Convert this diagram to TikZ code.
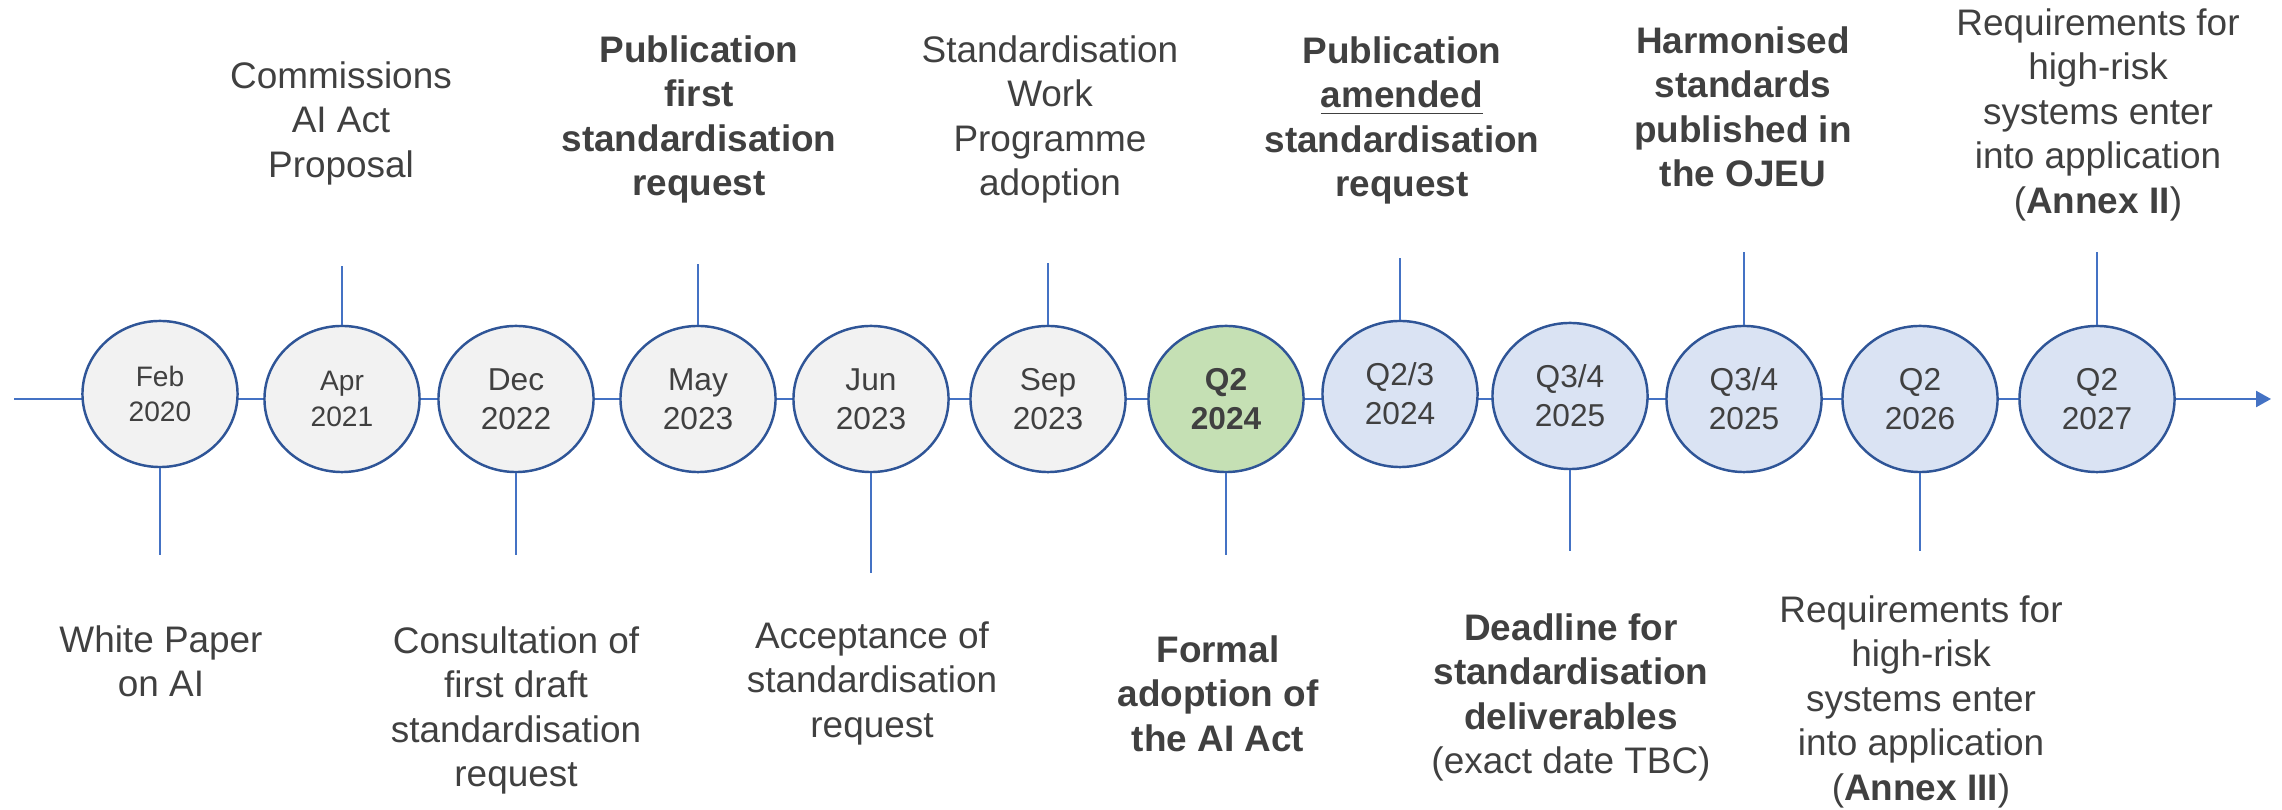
\documentclass[tikz,border=0pt]{standalone}
\usepackage{fontspec}
\setmainfont{Liberation Sans}
\usepackage{tikz}
\usetikzlibrary{shapes.geometric,arrows.meta}
\definecolor{linebl}{HTML}{4472C4}
\definecolor{rimbl}{HTML}{2F5597}
\definecolor{pastgray}{HTML}{F2F2F2}
\definecolor{nowgreen}{HTML}{C5E0B4}
\definecolor{nextblue}{HTML}{DAE3F3}
\definecolor{txtgray}{HTML}{404040}
\begin{document}
\begin{tikzpicture}[x=0.01cm,y=-0.01cm,
    date/.style={ellipse,draw=rimbl,line width=0.7pt,minimum width=1.55cm,minimum height=1.46cm,inner sep=0pt,text=txtgray,align=center,font=\fontsize{9pt}{11.1pt}\selectfont},
    olddate/.style={date,font=\fontsize{8pt}{10pt}\selectfont},
    event/.style={anchor=north,inner sep=0pt,text=txtgray,align=center,font=\fontsize{10.5pt}{12.65pt}\selectfont},
    keyevent/.style={event,font=\fontsize{10.5pt}{12.65pt}\selectfont\bfseries},
    tick/.style={draw=linebl,line width=0.35pt}]
      \useasboundingbox (0,0) rectangle (2282,810);
      % time axis
      \coordinate (tlstart) at (14,399);
      \coordinate (tlend) at (2271,399);
      \draw[linebl,line width=0.7pt,-{Triangle[length=0.15cm,width=0.16cm]}] (tlstart) -- (tlend);
      % milestones
      \node[olddate,fill=pastgray] (feb20) at (160,394) {Feb\\2020};
      \node[olddate,fill=pastgray] (apr21) at (342,399) {Apr\\2021};
      \node[date,fill=pastgray] (dec22) at (516,399) {Dec\\2022};
      \node[date,fill=pastgray] (may23) at (698,399) {May\\2023};
      \node[date,fill=pastgray] (jun23) at (871,399) {Jun\\2023};
      \node[date,fill=pastgray] (sep23) at (1048,399) {Sep\\2023};
      \node[date,fill=nowgreen,font=\fontsize{9pt}{11.1pt}\selectfont\bfseries] (q224) at (1226,399) {Q2\\2024};
      \node[date,fill=nextblue] (q2324) at (1400,394) {Q2/3\\2024};
      \node[date,fill=nextblue] (q34a) at (1570,396) {Q3/4\\2025};
      \node[date,fill=nextblue] (q34b) at (1744,399) {Q3/4\\2025};
      \node[date,fill=nextblue] (q226) at (1920,399) {Q2\\2026};
      \node[date,fill=nextblue] (q227) at (2097,399) {Q2\\2027};
      % tick ends
      \coordinate (feb20end) at (160,555);
      \coordinate (apr21end) at (342,266);
      \coordinate (dec22end) at (516,555);
      \coordinate (may23end) at (698,264);
      \coordinate (jun23end) at (871,573);
      \coordinate (sep23end) at (1048,263);
      \coordinate (q224end) at (1226,555);
      \coordinate (q2324end) at (1400,258);
      \coordinate (q34aend) at (1570,551);
      \coordinate (q34bend) at (1744,252);
      \coordinate (q226end) at (1920,551);
      \coordinate (q227end) at (2097,252);
      \draw[tick] (feb20) -- (feb20end);
      \draw[tick] (apr21) -- (apr21end);
      \draw[tick] (dec22) -- (dec22end);
      \draw[tick] (may23) -- (may23end);
      \draw[tick] (jun23) -- (jun23end);
      \draw[tick] (sep23) -- (sep23end);
      \draw[tick] (q224) -- (q224end);
      \draw[tick] (q2324) -- (q2324end);
      \draw[tick] (q34a) -- (q34aend);
      \draw[tick] (q34b) -- (q34bend);
      \draw[tick] (q226) -- (q226end);
      \draw[tick] (q227) -- (q227end);
      % events above
      \node[event] (apr21txt) at (341,61) {Commissions\\AI Act\\Proposal};
      \node[keyevent] (may23txt) at (699,35) {Publication\\first\\standardisation\\request};
      \node[event] (sep23txt) at (1050,35) {Standardisation\\Work\\Programme\\adoption};
      \node[keyevent] (q2324txt) at (1402,36) {Publication\\\underline{amended}\\standardisation\\request};
      \node[keyevent] (q34btxt) at (1743,26) {Harmonised\\standards\\published in\\the OJEU};
      \node[event] (q227txt) at (2098,8) {Requirements for\\high-risk\\systems enter\\into application\\(\textbf{Annex II})};
      % events below
      \node[event] (feb20txt) at (161,625) {White Paper\\on AI};
      \node[event] (dec22txt) at (516,626) {Consultation of\\first draft\\standardisation\\request};
      \node[event] (jun23txt) at (872,621) {Acceptance of\\standardisation\\request};
      \node[keyevent] (q224txt) at (1218,635) {Formal\\adoption of\\the AI Act};
      \node[event] (q34atxt) at (1571,613) {\textbf{Deadline for}\\\textbf{standardisation}\\\textbf{deliverables}\\(exact date TBC)};
      \node[event] (q226txt) at (1921,595) {Requirements for\\high-risk\\systems enter\\into application\\(\textbf{Annex III})};
    \end{tikzpicture}
\end{document}
